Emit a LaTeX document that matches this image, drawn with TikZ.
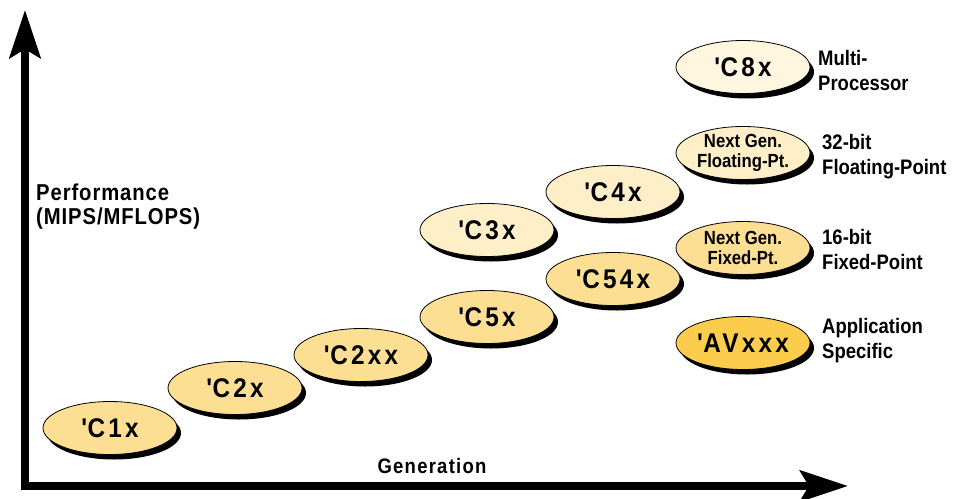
\documentclass[tikz,border=0pt]{standalone}
\usepackage{fontspec}
\setmainfont{Liberation Sans}
\newfontfamily\discfont{Liberation Sans}[FakeStretch=0.9, LetterSpace=12]
\newfontfamily\condfont{Liberation Sans}[FakeStretch=0.88]
\newfontfamily\perffont{Liberation Sans}[FakeStretch=0.88, LetterSpace=4]
\newfontfamily\genfont{Liberation Sans}[FakeStretch=0.88, LetterSpace=6]
\usetikzlibrary{shapes.geometric,shadows,arrows.meta}
\definecolor{midc}{RGB}{253,223,148}
\definecolor{palec}{RGB}{254,239,200}
\definecolor{palestc}{RGB}{255,246,224}
\definecolor{avc}{RGB}{252,204,76}
\begin{document}
\begin{tikzpicture}[x=1pt,y=-1pt,
  disc/.style={ellipse, draw=black, line width=0.8pt, minimum width=134pt, minimum height=53pt,
    inner sep=0pt,
    drop shadow={shadow xshift=4pt, shadow yshift=-5pt, opacity=1, fill=black},
    font=\discfont\bfseries\fontsize{27}{30}\selectfont},
  twoline/.style={align=center, inner xsep=-3pt, inner ysep=0pt,
    font=\condfont\bfseries\fontsize{19}{20}\selectfont},
  side/.style={anchor=west, align=left, inner sep=0pt,
    font=\condfont\bfseries\fontsize{21}{25}\selectfont},
  axis/.style={line width=8pt, line join=miter,
    {Stealth[length=48pt, width=31pt, inset=9pt]}-{Stealth[length=48pt, width=31pt, inset=9pt]}}
]
\useasboundingbox (0,0) rectangle (969,498);

% axes
\coordinate (ytip) at (25,10);
\coordinate (origin) at (25,486);
\coordinate (xtip) at (848,486);
\draw[axis] (ytip) -- (origin) -- (xtip);

\node[side, font=\perffont\bfseries\fontsize{23}{24}\selectfont] (perf) at (36,207) {Performance\\(MIPS/MFLOPS)};
\node[font=\genfont\bfseries\fontsize{21}{24}\selectfont, inner sep=0pt] (gen) at (432,466) {Generation};

% discs
\node[disc, fill=midc] (c1x) at (110,428) {\textquotesingle C1x};
\node[disc, fill=midc] (c2x) at (235,388) {\textquotesingle C2x};
\node[disc, fill=midc] (c2xx) at (361,355) {\textquotesingle C2xx};
\node[disc, fill=midc] (c5x) at (487,317) {\textquotesingle C5x};
\node[disc, fill=palec] (c3x) at (487,230) {\textquotesingle C3x};
\node[disc, fill=midc] (c54x) at (613,279) {\textquotesingle C54x};
\node[disc, fill=palec] (c4x) at (613,192) {\textquotesingle C4x};

\node[disc, fill=palestc] (c8x) at (743,67) {\textquotesingle C8x};
\node[disc, fill=palec, twoline] (nfl) at (743,153) {Next Gen.\\Floating-Pt.};
\node[disc, fill=midc, twoline] (nfx) at (743,248) {Next Gen.\\Fixed-Pt.};
\node[disc, fill=avc] (av) at (743,343) {\textquotesingle AVxxx};

% side labels
\node[side] (lmp) at (818,70) {Multi-\\Processor};
\node[side] (lfl) at (822,157) {32-bit\\Floating-Point};
\node[side] (lfx) at (822,249) {16-bit\\Fixed-Point};
\node[side] (lap) at (822,341) {Application\\Specific};
\end{tikzpicture}
\end{document}
